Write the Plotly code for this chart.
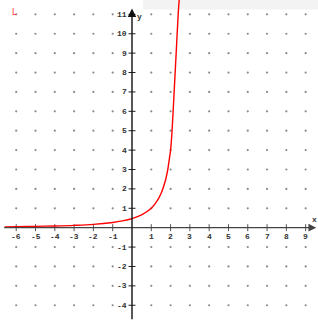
import plotly.graph_objects as go

# curve values
curve_x = [-6.6, -6, -5, -4, -3, -2, -1, -0.5, 0, 0.5, 1, 1.25, 1.5, 1.75, 1.85, 1.9, 2.0, 2.05, 2.1, 2.2, 2.3, 2.4, 2.45]
curve_y = [0.04, 0.05, 0.07, 0.09, 0.12, 0.17, 0.27, 0.35, 0.47, 0.66, 1.0, 1.3, 1.75, 2.5, 2.97, 3.3, 4.0, 4.6, 5.4, 7.3, 9.2, 11.1, 11.8]

x_ticks = [-6, -5, -4, -3, -2, -1, 1, 2, 3, 4, 5, 6, 7, 8, 9]
y_ticks = [-4, -3, -2, -1, 1, 2, 3, 4, 5, 6, 7, 8, 9, 10, 11]
x_tick_labels = [str(v) for v in x_ticks]
y_tick_labels = [str(v) for v in y_ticks]

X_RANGE = [-6.84, 9.64]
Y_RANGE = [-4.76, 11.74]

fig = go.Figure()

# dot grid (off the axes)
gx, gy = [], []
for xv in x_ticks:
    for yv in y_ticks:
        gx.append(xv)
        gy.append(yv)
fig.add_trace(go.Scatter(x=gx, y=gy, mode="markers",
                         marker=dict(size=2.2, color="#8a8a8a"),
                         hoverinfo="skip", showlegend=False))

# axis tick marks
fig.add_trace(go.Scatter(x=x_ticks, y=[0] * len(x_ticks), mode="markers",
                         marker=dict(symbol="line-ns", size=5, line=dict(width=1, color="#555")),
                         hoverinfo="skip", showlegend=False))
fig.add_trace(go.Scatter(x=[0] * len(y_ticks), y=y_ticks, mode="markers",
                         marker=dict(symbol="line-ew", size=5, line=dict(width=1, color="#222")),
                         hoverinfo="skip", showlegend=False))

# the curve
fig.add_trace(go.Scatter(x=curve_x, y=curve_y, mode="lines",
                         line=dict(color="#ff0000", width=1.4, shape="spline", smoothing=1.0),
                         hoverinfo="skip", showlegend=False))

font = dict(family="Liberation Mono, Courier New, monospace", size=8, color="#333")

annotations = []
# axes with arrowheads
annotations.append(dict(x=9.55, y=0, ax=-6.7, ay=0, xref="x", yref="y", axref="x", ayref="y",
                        text="", showarrow=True, arrowhead=2, arrowsize=1.2, arrowwidth=1.3,
                        arrowcolor="#444"))
annotations.append(dict(x=0, y=11.3, ax=0, ay=-4.8, xref="x", yref="y", axref="x", ayref="y",
                        text="", showarrow=True, arrowhead=2, arrowsize=1.2, arrowwidth=1.4,
                        arrowcolor="#111"))
for v, t in zip(x_ticks, x_tick_labels):
    annotations.append(dict(x=v, y=0, xref="x", yref="y", text="<b>%s</b>" % t, showarrow=False,
                            xanchor="center", yanchor="top", yshift=-2, font=font))
for v, t in zip(y_ticks, y_tick_labels):
    annotations.append(dict(x=0, y=v, xref="x", yref="y", text="<b>%s</b>" % t, showarrow=False,
                            xanchor="right", yanchor="middle", xshift=-3, font=font))
annotations.append(dict(x=9.45, y=0, xref="x", yref="y", text="<b>x</b>", showarrow=False,
                        xanchor="center", yanchor="bottom", yshift=2, font=font))
annotations.append(dict(x=0, y=11.3, xref="x", yref="y", text="<b>y</b>", showarrow=False,
                        xanchor="left", yanchor="top", xshift=3, yshift=-1, font=font))
annotations.append(dict(x=0.045, y=0.96, xref="paper", yref="paper", text="L", showarrow=False,
                        xanchor="center", yanchor="middle",
                        font=dict(family="DejaVu Sans", size=8, color="#ff3030")))

fig.update_layout(
    width=318, height=320,
    margin=dict(l=0, r=0, t=0, b=0),
    paper_bgcolor="white", plot_bgcolor="white",
    xaxis=dict(range=X_RANGE, visible=False, fixedrange=True),
    yaxis=dict(range=Y_RANGE, visible=False, fixedrange=True),
    annotations=annotations,
    shapes=[dict(type="rect", xref="paper", yref="paper", x0=0.45, x1=1.0, y0=0.97, y1=1.0,
                 fillcolor="#f0f0f0", line=dict(width=0), layer="below", opacity=0.8)],
)

fig.write_html("out.html", config={"displayModeBar": False},
               post_script="document.body.style.margin='0px';document.body.style.overflow='hidden';")
